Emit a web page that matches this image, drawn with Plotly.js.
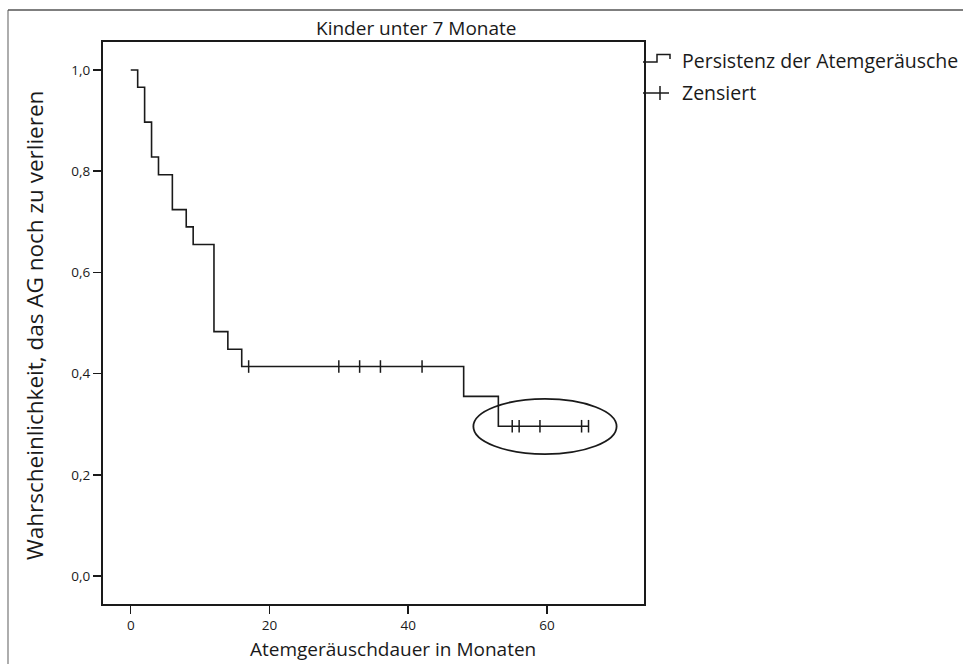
<!DOCTYPE html>
<html>
<head>
<meta charset="utf-8">
<script src="https://cdn.plot.ly/plotly-3.0.1.min.js"></script>
<style>
html,body{margin:0;padding:0;background:#fff;}
#chart{width:963px;height:664px;}
</style>
</head>
<body>
<div id="chart"></div>
<script>
// ---- Data ----
const eventTimes = [0, 1, 2, 3, 4, 6, 8, 9, 12, 14, 16, 48, 53];
const survival   = [1.0, 0.966, 0.897, 0.828, 0.793, 0.724, 0.690, 0.655, 0.483, 0.448, 0.414, 0.355, 0.296];
const endTime = 66;
const censoredTimes = [17, 30, 33, 36, 42, 55, 56, 59, 65, 66];
const censoredSurv  = [0.414, 0.414, 0.414, 0.414, 0.414, 0.296, 0.296, 0.296, 0.296, 0.296];
const xTicks = [0, 20, 40, 60];
const yTicks = [0, 0.2, 0.4, 0.6, 0.8, 1.0];
const chartTitle = "Kinder unter 7 Monate";
const xTitle = "Atemgeräuschdauer in Monaten";
const yTitle = "Wahrscheinlichkeit, das AG noch zu verlieren";
const legendLabels = ["Persistenz der Atemgeräusche", "Zensiert"];
const highlight = {x0: 49.4, x1: 70.05, y0: 0.241, y1: 0.35};

// ---- Layout geometry ----
const W = 963, H = 664;
const L = 103, R = 644, T = 42, B = 604;
const px = x => (x - L) / (R - L);
const py = y => (B - y) / (B - T);
const FONT = "Open Sans, Noto Sans, sans-serif";
const INK = "#1a1a1a";

const stepX = eventTimes.concat([endTime]);
const stepY = survival.concat([survival[survival.length - 1]]);

const traces = [
  {
    x: stepX, y: stepY, type: "scatter", mode: "lines",
    line: {shape: "hv", color: INK, width: 1.6},
    hoverinfo: "x+y", showlegend: false
  },
  {
    x: censoredTimes, y: censoredSurv, type: "scatter", mode: "markers",
    marker: {symbol: "line-ns", size: 9, line: {color: INK, width: 1.5}},
    showlegend: false
  }
];

const shapes = [
  // outer frame (partially visible)
  {type: "line", xref: "paper", yref: "paper", x0: px(8), x1: px(8), y0: py(10), y1: py(680), line: {color: "#777", width: 1.2}},
  {type: "line", xref: "paper", yref: "paper", x0: px(8), x1: px(980), y0: py(10), y1: py(10), line: {color: "#555", width: 1.5}},
  // highlight ellipse
  {type: "circle", xref: "x", yref: "y", x0: highlight.x0, x1: highlight.x1, y0: highlight.y0, y1: highlight.y1, line: {color: INK, width: 1.8}},
  // legend: step symbol
  {type: "path", xref: "paper", yref: "paper",
   path: `M ${px(643)} ${py(62)} L ${px(657)} ${py(62)} L ${px(657)} ${py(54.5)} L ${px(670)} ${py(54.5)} L ${px(670)} ${py(59)}`,
   line: {color: INK, width: 1.5}},
  // legend: censored symbol
  {type: "line", xref: "paper", yref: "paper", x0: px(643), x1: px(669), y0: py(93), y1: py(93), line: {color: INK, width: 1.5}},
  {type: "line", xref: "paper", yref: "paper", x0: px(660), x1: px(660), y0: py(86), y1: py(100), line: {color: INK, width: 1.5}}
];

const annotations = [
  {text: chartTitle, xref: "paper", yref: "paper", x: px(416), y: py(28), xanchor: "center", yanchor: "middle", showarrow: false,
   font: {family: FONT, size: 19, color: INK}},
  {text: xTitle, xref: "paper", yref: "paper", x: px(393), y: py(649), xanchor: "center", yanchor: "middle", showarrow: false,
   font: {family: FONT, size: 19, color: INK}},
  {text: yTitle, xref: "paper", yref: "paper", x: px(35), y: py(326), xanchor: "center", yanchor: "middle", showarrow: false, textangle: -90,
   font: {family: FONT, size: 22.5, color: INK}},
  {text: legendLabels[0], xref: "paper", yref: "paper", x: px(680), y: py(61), xanchor: "left", yanchor: "middle", showarrow: false,
   font: {family: FONT, size: 19.5, color: INK}},
  {text: legendLabels[1], xref: "paper", yref: "paper", x: px(680), y: py(92), xanchor: "left", yanchor: "middle", showarrow: false,
   font: {family: FONT, size: 19.5, color: INK}}
];

const layout = {
  width: W, height: H,
  margin: {l: L, r: W - R, t: T, b: H - B, pad: 0},
  paper_bgcolor: "#fff", plot_bgcolor: "#fff",
  separators: ", ",
  showlegend: false,
  xaxis: {
    range: [-4, 74], tickvals: xTicks, ticks: "outside", ticklen: 8, tickwidth: 1.5, tickcolor: INK,
    showline: true, mirror: true, linewidth: 2, linecolor: INK, showgrid: false, zeroline: false,
    tickfont: {family: FONT, size: 13.5, color: INK}
  },
  yaxis: {
    range: [-0.0553, 1.0553], tickvals: yTicks, tickformat: ".1f", ticks: "outside", ticklen: 8, tickwidth: 1.5, tickcolor: INK,
    showline: true, mirror: true, linewidth: 2, linecolor: INK, showgrid: false, zeroline: false,
    tickfont: {family: FONT, size: 13.5, color: INK}
  },
  shapes: shapes,
  annotations: annotations
};

Plotly.newPlot("chart", traces, layout, {displayModeBar: false, staticPlot: true});
</script>
</body>
</html>
